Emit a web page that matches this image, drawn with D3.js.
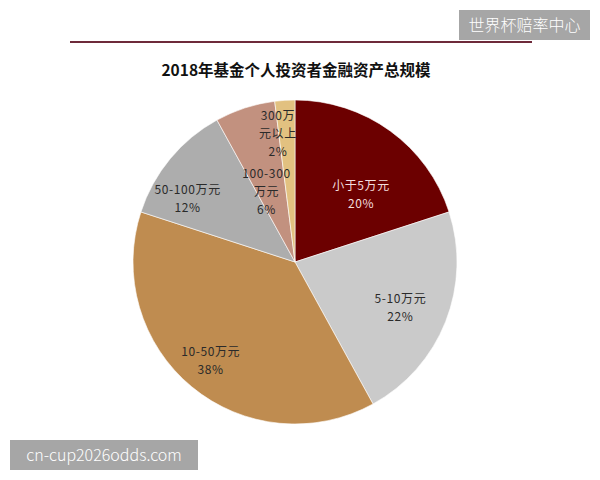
<!DOCTYPE html>
<head>
<meta charset="utf-8">
<script src="https://d3js.org/d3.v7.min.js"></script>
</head>
<style>
body { margin: 0; background: #fff; }
text { font-family: "Noto Sans CJK SC", "Noto Sans", sans-serif; }
</style>
<body>
<script>
// data
var labels = ["小于5万元", "5-10万元", "10-50万元", "50-100万元", "100-300万元", "300万元以上"];
var labelLines = [["小于5万元"], ["5-10万元"], ["10-50万元"], ["50-100万元"], ["100-300", "万元"], ["300万", "元以上"]];
var shares = [20, 22, 38, 12, 6, 2];
var colors = ["#6c0000", "#cacaca", "#bf8c50", "#adadad", "#c2917f", "#e2c180"];
var textColors = ["#f3dede", "#2a2a2a", "#2a2a2a", "#2a2a2a", "#2a2a2a", "#2a2a2a"];
// label placement: fraction of radius and angle nudge (degrees)
var labelR = [0.58, 0.71, 0.8, 0.77, 0.47, 0.8];
var labelNudge = [8.6, 2, 1, -9, -4, -4];

var width = 600, height = 480;
var cx = 295, cy = 262, radius = 162;

var svg = d3.select("body").append("svg")
    .attr("width", width)
    .attr("height", height);

// header rule
svg.append("line")
    .attr("x1", 70).attr("x2", 532)
    .attr("y1", 42).attr("y2", 42)
    .attr("stroke", "#6e2a3a")
    .attr("stroke-width", 2);

svg.append("text")
    .attr("x", 296).attr("y", 76)
    .attr("text-anchor", "middle")
    .attr("font-size", "15.5px")
    .attr("font-weight", "bold")
    .attr("fill", "#111")
    .text("2018年基金个人投资者金融资产总规模");

var pie = d3.pie().sort(null).value(function(d) { return d; });
var arc = d3.arc().innerRadius(0).outerRadius(radius);
var arcs = pie(shares);

var g = svg.append("g")
    .attr("transform", "translate(" + cx + "," + cy + ")");

g.selectAll("path")
    .data(arcs)
  .enter().append("path")
    .attr("d", arc)
    .attr("fill", function(d, i) { return colors[i]; })
    .attr("stroke", "#fff")
    .attr("stroke-width", 0.6);

var lab = g.selectAll("g.lab")
    .data(arcs)
  .enter().append("g")
    .attr("class", "lab")
    .attr("transform", function(d, i) {
      var a = (d.startAngle + d.endAngle) / 2 + labelNudge[i] * Math.PI / 180;
      var r = radius * labelR[i];
      return "translate(" + (r * Math.sin(a)) + "," + (-r * Math.cos(a)) + ")";
    });

lab.each(function(d, i) {
  var lines = labelLines[i].concat([shares[i] + "%"]);
  var step = 18;
  var top = -(lines.length - 1) * step / 2;
  var sel = d3.select(this);
  lines.forEach(function(t, k) {
    sel.append("text")
      .attr("y", top + k * step)
      .attr("dy", "0.35em")
      .attr("text-anchor", "middle")
      .attr("font-size", "12px")
      .attr("letter-spacing", "0.6px")
      .attr("fill", textColors[i])
      .text(t);
  });
});

// watermarks
svg.append("rect")
    .attr("x", 459).attr("y", 10).attr("width", 131).attr("height", 30)
    .attr("fill", "#a6a6a6");
svg.append("text")
    .attr("x", 524.5).attr("y", 25).attr("dy", "0.35em")
    .attr("text-anchor", "middle")
    .attr("font-size", "16px")
    .attr("font-weight", 300)
    .attr("fill", "#fff")
    .text("世界杯赔率中心");

svg.append("rect")
    .attr("x", 10).attr("y", 440).attr("width", 188).attr("height", 30)
    .attr("fill", "#a6a6a6");
svg.append("text")
    .attr("x", 104).attr("y", 455).attr("dy", "0.35em")
    .attr("text-anchor", "middle")
    .attr("font-size", "16px")
    .attr("font-weight", 300)
    .attr("fill", "#fff")
    .text("cn-cup2026odds.com");
</script>
</body>
